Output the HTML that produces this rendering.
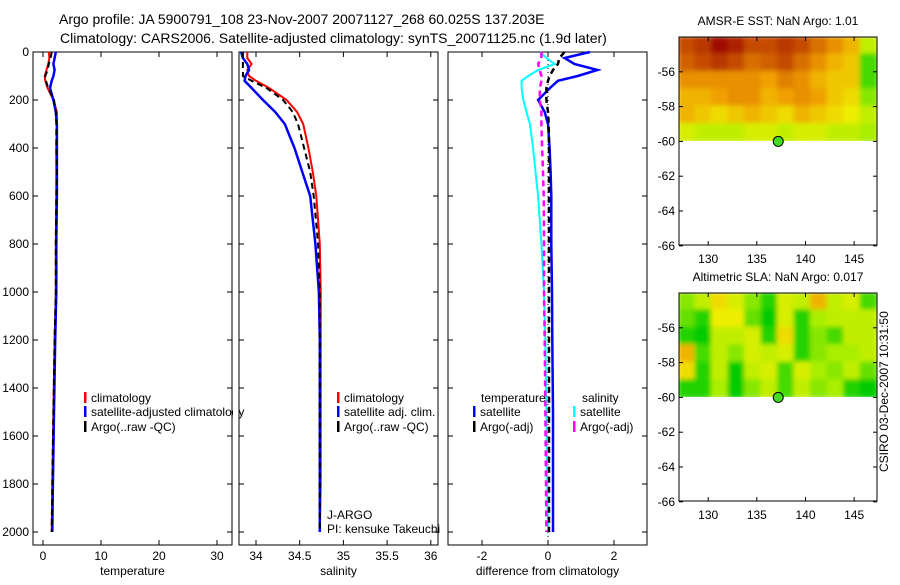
<!DOCTYPE html>
<html><head><meta charset="utf-8"><style>
body{margin:0;background:#fff;width:900px;height:580px;overflow:hidden}
svg text{font-family:"Liberation Sans",sans-serif;fill:#000}
</style></head><body>
<svg id="c" width="900" height="580" xmlns="http://www.w3.org/2000/svg">
<defs>
<filter id="bl" x="0" y="0" width="1" height="1"><feGaussianBlur stdDeviation="2.5"/></filter>
<clipPath id="cp1"><rect x="679" y="37" width="198" height="104"/></clipPath>
<clipPath id="cp2"><rect x="679" y="293" width="198" height="104"/></clipPath>
</defs>
<text x="59" y="24" font-size="14">Argo profile: JA 5900791_108 23-Nov-2007 20071127_268 60.025S 137.203E</text>
<text x="60" y="43" font-size="14">Climatology: CARS2006. Satellite-adjusted climatology: synTS_20071125.nc (1.9d later)</text>
<g id="g"></g>
</svg>
<script>
// ---- data ----
const depths = [0,25,50,75,100,120,150,200,250,300,400,500,600,800,1000,1200,1500,1800,2000];
const tempClim = [1.0,1.1,0.9,0.6,0.3,0.4,0.8,1.8,2.4,2.4,2.3,2.3,2.3,2.2,2.2,2.0,1.8,1.6,1.5];
const tempSat  = [2.2,2.0,1.8,2.0,1.8,1.5,1.2,1.8,2.2,2.4,2.4,2.4,2.4,2.3,2.3,2.1,1.9,1.7,1.6];
const tempArgo = [1.5,1.3,1.0,0.8,0.4,0.5,0.9,1.9,2.2,2.3,2.3,2.4,2.3,2.2,2.2,2.0,1.8,1.6,1.5];
const salClim = [33.9,33.9,33.95,33.9,33.92,34.0,34.15,34.35,34.47,34.54,34.6,34.65,34.69,34.73,34.74,34.74,34.74,34.74,34.73];
const salSat  = [33.83,33.85,33.9,33.92,33.88,33.87,33.95,34.08,34.22,34.33,34.44,34.53,34.62,34.68,34.72,34.73,34.73,34.73,34.73];
const salArgo = [33.85,33.85,33.85,33.85,33.85,33.95,34.12,34.31,34.42,34.48,34.55,34.62,34.66,34.71,34.73,34.73,34.73,34.73,34.73];
const dTempSat = [1.27,0.5,0.8,1.5,0.9,0.3,0.06,-0.3,-0.1,0.0,0.05,0.08,0.1,0.1,0.12,0.13,0.15,0.15,0.15];
const dSalSat  = [-0.24,-0.05,0.2,-0.3,-0.6,-0.8,-0.8,-0.75,-0.65,-0.55,-0.45,-0.38,-0.3,-0.2,-0.12,-0.08,-0.05,-0.02,0.0];
const dTempArgo= [0.5,0.35,0.3,0.15,0.05,0.0,-0.05,-0.05,0.0,0.02,0.03,0.03,0.03,0.03,0.03,0.03,0.03,0.03,0.03];
const dSalArgo = [-0.2,-0.2,-0.3,-0.25,-0.2,-0.2,-0.25,-0.25,-0.2,-0.2,-0.18,-0.15,-0.13,-0.12,-0.12,-0.1,-0.08,-0.06,-0.05];
const depthTicks = [0,200,400,600,800,1000,1200,1400,1600,1800,2000];
const tempTicks = [0,10,20,30];
const salTicks = [34,34.5,35,35.5,36];
const salTickLabels = ["34","34.5","35","35.5","36"];
const diffTicks = [-2,0,2];
const latTicks = [-56,-58,-60,-62,-64,-66];
const lonTicks = [130,135,140,145];
const sstGrid = [
[.85,.9,1.0,.95,.85,.85,.9,.85,.75,.65,.55,.3],
[.8,.85,.9,.85,.75,.8,.85,.75,.65,.55,.5,.1],
[.65,.65,.65,.65,.65,.6,.7,.65,.55,.5,.5,.1],
[.55,.55,.6,.65,.65,.55,.6,.65,.6,.5,.45,.2],
[.55,.5,.45,.5,.55,.5,.45,.55,.5,.45,.4,.3],
[.35,.3,.3,.3,.35,.35,.3,.35,.35,.3,.3,.25]];
const slaGrid = [
[.2,.3,.45,.35,.2,.05,.35,.3,.55,.3,.35,.1],
[.15,.05,.4,.4,.15,.0,.35,.05,.25,.3,.3,.3],
[.05,.0,.3,.3,.35,.05,.45,.05,.2,.1,.3,.3],
[.55,.1,.3,.2,.35,.3,.35,.05,.2,.25,.25,.3],
[.45,.05,.3,.0,.3,.35,.1,.35,.25,.2,.3,.15],
[.05,.05,.25,.0,.2,.3,.1,.3,.2,.25,.05,.0]];
const floatLon = 137.2, floatLat = -60.0;

const NS="http://www.w3.org/2000/svg";
const G=document.getElementById('g');
function mk(t,a,p){const e=document.createElementNS(NS,t);for(const k in a)e.setAttribute(k,a[k]);(p||G).appendChild(e);return e;}
function txt(x,y,s,size,anchor){const e=mk('text',{x:x,y:y,'font-size':size||12,'text-anchor':anchor||'middle'});e.textContent=s;return e;}

const Y0=52, PY=0.24;
const yD=d=>Y0+d*PY;
function panel(x0,x1,xs,ticks,labels,xlabel,name,leftLabels){
  const r=mk('rect',{x:x0,y:52,width:x1-x0,height:493,fill:'none',stroke:'#000','stroke-width':1});
  
  
  depthTicks.forEach(d=>{const y=yD(d);mk('line',{x1:x0,y1:y,x2:x0+5,y2:y,stroke:'#000'});mk('line',{x1:x1,y1:y,x2:x1-5,y2:y,stroke:'#000'});
    if(leftLabels){const t=txt(x0-4,y+4,String(d),12,'end');}});
  ticks.forEach((v,i)=>{const x=xs(v);mk('line',{x1:x,y1:545,x2:x,y2:540,stroke:'#000'});mk('line',{x1:x,y1:52,x2:x,y2:57,stroke:'#000'});
    const t=txt(x,560,labels[i],12);});
  const t=txt((x0+x1)/2,575,xlabel,12);
}
function line(vals,xs,color,w,dash,name){
  const pts=vals.map((v,i)=>xs(v).toFixed(1)+','+yD(depths[i]).toFixed(1)).join(' ');
  const a={points:pts,fill:'none',stroke:color,'stroke-width':w};if(dash)a['stroke-dasharray']=dash;
  const e=mk('polyline',a);
  
  
}
function legend(x,y,color,label,name){
  mk('rect',{x:x,y:y-10,width:2.5,height:11,fill:color});
  const t=txt(x+7,y,label,12,'start');
  
  
}
// temperature
const xT=v=>43+v*5.8;
panel(33,232,xT,tempTicks,tempTicks.map(String),'temperature','temperature-panel',true);
line(tempClim,xT,'#f00',2,null,'temp-climatology-line');
line(tempSat,xT,'#00f',2.5,null,'temp-satellite-line');
line(tempArgo,xT,'#000',2,'6,4','temp-argo-line');
legend(84,402,'#f00','climatology','legend-climatology');
legend(84,416,'#00f','satellite-adjusted climatology','legend-satellite-adjusted');
legend(84,431,'#000','Argo(..raw -QC)','legend-argo');
mk('rect',{x:233,y:385,width:5,height:50,fill:'#fff'});
// salinity
const xS=v=>256+(v-34)*87.4;
panel(239,438,xS,salTicks,salTickLabels,'salinity','salinity-panel',false);
line(salClim,xS,'#f00',2,null,'sal-climatology-line');
line(salSat,xS,'#00f',2.5,null,'sal-satellite-line');
line(salArgo,xS,'#000',2,'6,4','sal-argo-line');
legend(337,402,'#f00','climatology','legend-sal-climatology');
legend(337,416,'#00f','satellite adj. clim.','legend-sal-satellite');
legend(337,431,'#000','Argo(..raw -QC)','legend-sal-argo');
txt(327,519,'J-ARGO',12,'start');
txt(327,533,'PI: kensuke Takeuchi',12,'start');
// difference
const xDf=v=>548+v*33;
panel(448,647,xDf,diffTicks,diffTicks.map(String),'difference from climatology','difference-panel',false);
mk('line',{x1:xDf(0),y1:52,x2:xDf(0),y2:545,stroke:'#000','stroke-width':1,'stroke-dasharray':'1,3'});
line(dSalSat,xDf,'#0ff',2,null,'diff-sal-satellite-line');
line(dTempSat,xDf,'#00f',2.5,null,'diff-temp-satellite-line');
line(dSalArgo,xDf,'#f0f',2.5,'6,4','diff-sal-argo-line');
line(dTempArgo,xDf,'#000',2.5,'6,4','diff-temp-argo-line');
txt(481,402,'temperature',12,'start');
txt(582,402,'salinity',12,'start');
legend(473,416,'#00f','satellite','legend-diff-temp-satellite');
legend(473,431,'#000','Argo(-adj)','legend-diff-temp-argo');
legend(573,416,'#0ff','satellite','legend-diff-sal-satellite');
legend(573,431,'#f0f','Argo(-adj)','legend-diff-sal-argo');
// maps
const stops=[[0,[0,204,0]],[0.25,[170,238,0]],[0.4,[238,238,0]],[0.6,[240,160,0]],[0.8,[208,96,0]],[1,[160,16,0]]];
function cmap(v){for(let i=1;i<stops.length;i++){if(v<=stops[i][0]){const a=stops[i-1],b=stops[i],t=(v-a[0])/(b[0]-a[0]);return 'rgb('+a[1].map((c,k)=>Math.round(c+(b[1][k]-c)*t)).join(',')+')';}}return 'rgb(160,16,0)';}
function map(top,grid,title,name,clip){
  const L=679,R=877,lonMin=127.0,lonMax=147.35;
  const xL=lon=>L+(lon-lonMin)*(R-L)/(lonMax-lonMin);
  const yL=lat=>top+(-54-lat)*17.4;
  const tt=txt(778,top-12,title,12);
  const cg=mk('g',{'clip-path':'url(#'+clip+')'});
  const fg=mk('g',{filter:'url(#bl)'},cg);
  const nr=grid.length,nc=grid[0].length,cw=(R-L)/nc,ch=(yL(-60)-top)/nr;
  grid.forEach((row,r)=>row.forEach((v,c)=>{const e=mk('rect',{x:L+c*cw-1,y:top+r*ch-1,width:cw+2,height:ch+2,fill:cmap(v)},fg);
    }));
  const fr=mk('rect',{x:L,y:top,width:R-L,height:208,fill:'none',stroke:'#000'});
  
  latTicks.forEach(v=>{const y=yL(v);mk('line',{x1:L,y1:y,x2:L+4,y2:y,stroke:'#000'});mk('line',{x1:R,y1:y,x2:R-4,y2:y,stroke:'#000'});
    const t=txt(L-4,y+4,String(v),12,'end');});
  lonTicks.forEach(v=>{const x=xL(v);mk('line',{x1:x,y1:top,x2:x,y2:top+4,stroke:'#000'});mk('line',{x1:x,y1:top+208,x2:x,y2:top+204,stroke:'#000'});
    const t=txt(x,top+226,String(v),12);});
  const m=mk('circle',{cx:xL(floatLon),cy:yL(floatLat),r:5,fill:'#44dd22',stroke:'#000'});
  
}
map(37,sstGrid,'AMSR-E SST: NaN Argo: 1.01','sst-map','cp1');
map(293,slaGrid,'Altimetric SLA: NaN Argo: 0.017','sla-map','cp2');
const cs=txt(0,0,'CSIRO 03-Dec-2007 10:31:50',12);
cs.setAttribute('transform','translate(888,472) rotate(-90)');
cs.setAttribute('text-anchor','start');


</script>
</body></html>
